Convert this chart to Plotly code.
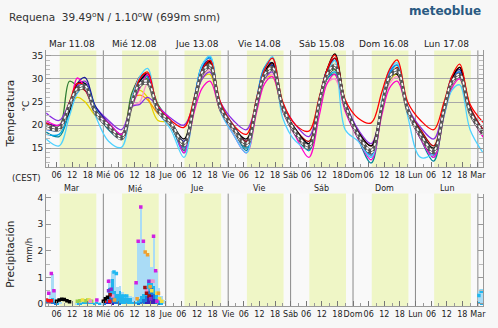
import plotly.graph_objects as go

# ---------------- data ----------------
# hours since Tue 11.08 00:00 (CEST)
hours = [2, 7, 11, 14, 17, 21,
         26, 31, 35, 38, 41, 45,
         50, 55, 59, 62, 65, 69,
         74, 79, 83, 86, 89, 93,
         98, 103, 107, 110, 113, 117,
         122, 127, 131, 134, 137, 141,
         146, 151, 155, 158, 161, 165,
         170]

t_red = [20.5, 19.5, 25, 29, 28.5, 23,
         20, 17.5, 25, 30, 31.5, 24,
         21, 19.5, 26, 32, 34, 25,
         20, 18, 26, 32, 34.5, 25,
         20, 18.7, 26, 32, 35.2, 25.5,
         21.5, 20.5, 27, 32, 34.1, 25,
         21, 19, 25, 30.5, 33.2, 24.5,
         20.6]
t_darkred = [19.5, 19, 24, 28, 27.5, 22.5,
             20, 17.5, 26, 30.5, 31, 23.5,
             20, 16, 25, 31.5, 33.5, 24,
             19.5, 16.5, 25, 31, 33.5, 24,
             19, 16.5, 25, 31.5, 34.5, 24.5,
             18.5, 15.5, 24, 30, 32.5, 23.5,
             19, 15.5, 24, 30, 32.5, 24,
             19]
t_black = [19.5, 19.5, 23, 29, 29, 22.5,
           20, 17, 25.5, 29.5, 31, 23,
           20.5, 17, 25.5, 32, 33.8, 24,
           19.5, 17, 25, 31.5, 33.5, 24,
           19, 16, 25.5, 32, 35.4, 25,
           18.5, 15.5, 24, 30.5, 31, 23.5,
           18.5, 15, 24, 30, 32.5, 23.5,
           18.5]
t_magenta = [21, 20, 24, 30.2, 28, 23,
             20.5, 18, 24, 28, 31, 24,
             21, 14, 23, 28, 29.5, 23,
             18, 14, 23, 29, 30.5, 23,
             17.5, 13, 22, 29, 31, 23,
             17, 12.5, 22, 28, 29.5, 23,
             17, 13, 22, 28, 30, 22.5,
             17.4]
t_purple = [22.6, 21, 25, 28.5, 29.5, 24,
            21, 19, 24, 24.5, 26, 24,
            21.5, 20, 25, 30, 31.5, 25,
            21, 19, 25, 30, 31.5, 24.5,
            20, 17.5, 25, 30.5, 32.5, 25,
            19, 16, 24, 30, 32, 24,
            19.5, 17, 24, 29.5, 31, 23.5,
            19]
t_navy = [20.5, 20, 24, 29, 30.3, 24,
          20.5, 18, 25, 29.5, 30.5, 23.5,
          20.5, 16.5, 26, 32.5, 34, 24.5,
          20, 16.5, 25.5, 32, 33, 24,
          19, 16, 25.5, 32, 34.5, 25,
          18, 14.5, 24, 31, 32, 23.5,
          18, 14, 23.5, 30.5, 32, 23.5,
          18]
t_blue = [19, 19, 23, 27, 28.5, 23,
          19.5, 17, 25, 30, 31, 23.5,
          20, 15, 26, 33, 34.5, 24,
          19, 15.5, 26, 32.5, 33.5, 24,
          18.5, 15, 25.5, 32, 34, 24.5,
          17.5, 13.5, 24, 31.5, 33, 24,
          17.5, 13.5, 23, 30, 31.5, 23,
          18]
t_cyan = [17, 15.5, 22, 27, 28.5, 22,
          16.5, 15.2, 26, 30.5, 32.3, 23,
          19, 13, 25, 33, 35, 23,
          18, 14, 25, 32, 34.8, 21.5,
          16.5, 15, 25, 31, 34, 19,
          16.5, 13, 25, 32, 33.5, 22,
          13, 14, 22, 27.5, 28.7, 19,
          14]
t_teal = [18.5, 17.5, 23, 28, 28.5, 23,
          19, 17, 25.5, 30, 30.5, 23.5,
          20, 14.5, 25, 32.5, 34, 23.5,
          19, 14.5, 25, 31.5, 33, 24,
          18, 14.5, 24.5, 30, 31, 24,
          17, 11.8, 23, 30.5, 32, 23,
          17, 12.2, 23, 30, 31.5, 23,
          18]
t_green = [19.5, 19.5, 29.5, 28.5, 28, 22.5,
           19.5, 18, 27, 30, 30, 24.5,
           20.5, 16, 25, 32, 33.5, 24,
           19.5, 16, 24.5, 31, 32, 24,
           18.5, 15.5, 24, 30.5, 32, 24,
           18, 14.5, 23.5, 30, 31.5, 23.5,
           18, 14.5, 23, 29.5, 31, 23,
           18.5]
t_yellow = [20, 19.5, 24, 26, 25, 22,
            20, 18, 24.5, 27.5, 26, 21,
            20.5, 15, 24, 30, 31, 23,
            19.5, 15.5, 24, 30, 30.5, 23,
            18.5, 15, 24, 30, 31, 23.5,
            18, 14, 23.5, 29.5, 31, 23,
            17.5, 14, 23, 29, 30.5, 22.5,
            18]
t_orange = [20, 19.5, 24, 29, 28, 23,
            20, 17.5, 25.5, 26.5, 25.5, 22.5,
            20.5, 14.5, 25, 31.5, 33, 23.5,
            19, 15, 25, 31, 32.5, 23.5,
            18.5, 14.5, 25, 31, 33, 24,
            18, 13.5, 24, 30.5, 32, 23.5,
            17.5, 13.5, 23.5, 29.5, 31, 23,
            18]
t_pink = [20, 19.5, 24, 28.5, 27.5, 22.5,
          20, 17.5, 24, 25, 29, 23.5,
          20.5, 16, 24.5, 30.5, 32, 23.5,
          19, 15.5, 24, 30, 31, 23,
          18.5, 15.5, 24, 29, 30, 23.5,
          18, 14.5, 23.5, 29, 30.5, 23,
          17.5, 14.5, 23, 29, 30, 22.5,
          17.5]
t_skyblue = [18, 18, 23, 28, 29, 23.5,
             19.5, 17, 25, 29.5, 30.5, 23.5,
             20, 14, 25.5, 33, 34.7, 24,
             19, 15, 26, 32.5, 34.5, 24.5,
             18.5, 14.5, 24.5, 30, 31.5, 24,
             17.5, 13, 24, 31, 33, 23.5,
             17.5, 13, 23, 29.5, 31, 23,
             18]
t_mean = [20, 19.5, 24.5, 28, 28.5, 23,
          20, 17.5, 25, 29, 29.5, 23.5,
          20.5, 16, 25, 31.5, 33, 24,
          19.5, 16, 25, 31, 32.5, 24,
          18.5, 15.5, 25, 31, 33, 24.5,
          18, 14.5, 24, 30.5, 32, 23.5,
          18, 14.5, 23.5, 29.5, 31, 23,
          18.5]
t_median = [19.5, 19, 24, 27.5, 28, 22.5,
            19.5, 17, 24.5, 28.5, 29, 23,
            20, 15.5, 24.5, 31, 32.5, 23.5,
            19, 15.5, 24.5, 30.5, 32, 23.5,
            18, 15, 24.5, 30.5, 32.5, 24,
            17.5, 14, 23.5, 30, 31.5, 23,
            17.5, 14, 23, 29, 30.5, 22.5,
            18]

# precipitation (mm/h), bar centres in hours since Tue 00:00
p_hours = [2.5, 3.5, 4.5, 5.5, 6.5, 7.5, 13.5, 14.5, 15.5, 16.5, 17.5, 18.5, 19.5, 20.5, 21.5, 22.5, 23.5,
           24.5, 25.5, 26.5, 27.5, 28.5, 29.5, 30.5, 31.5, 32.5, 33.5, 34.5, 35.5,
           36.5, 37.5, 38.5, 39.5, 40.5, 41.5, 42.5, 43.5, 44.5, 45.5, 46.5, 47.5,
           168.5, 169.5]
p_max = [0.25, 0.45, 1.15, 0.55, 0.15, 0.08, 0.05, 0.1, 0.12, 0.15, 0.15, 0.15, 0.15, 0.1, 0.2, 0.1, 0.05,
         0.15, 0.3, 0.95, 1.25, 1.15, 0.65, 0.7, 0.45, 0.3, 0.3, 0.3, 0.27,
         0.8, 2.36, 3.65, 2.36, 1.95, 1.85, 1.4, 2.55, 1.25, 0.6, 0.3, 0.15,
         0.5, 0.5]
p_mid = [0.2, 0.2, 0.25, 0.1, 0.05, 0, 0, 0.05, 0.05, 0.1, 0.1, 0.1, 0.08, 0.05, 0.1, 0.05, 0,
         0.1, 0.2, 0.6, 0.95, 0.5, 0.4, 0.5, 0.3, 0.25, 0.25, 0.25, 0.1,
         0.1, 0.2, 0.3, 0.4, 0.6, 0.8, 0.85, 0.7, 0.35, 0.15, 0.05, 0,
         0.1, 0.05]
p_dark = [0.1, 0.1, 0.1, 0.05, 0, 0, 0, 0, 0, 0, 0, 0, 0, 0, 0, 0, 0,
          0.05, 0.15, 0.3, 0.35, 0.2, 0.1, 0.05, 0, 0, 0, 0, 0,
          0, 0.05, 0.1, 0.2, 0.3, 0.5, 0.6, 0.4, 0.2, 0.05, 0, 0,
          0, 0]
p_indigo = [0, 0, 0, 0, 0, 0, 0, 0, 0, 0, 0, 0, 0, 0, 0, 0, 0,
            0, 0.1, 0.15, 0.05, 0, 0, 0, 0, 0, 0, 0, 0,
            0, 0, 0, 0, 0.1, 0.3, 0.35, 0.2, 0, 0, 0, 0,
            0, 0]

mk_magenta_x = [3, 4, 5, 21.5, 26, 36.6, 37.4, 38.4, 39.4, 43.3, 44.1, 44.6]
mk_magenta_y = [0.4, 1.15, 0.5, 0.15, 0.85, 0.8, 2.36, 3.65, 2.36, 2.55, 1.25, 0.1]
mk_orange_x = [40.1, 41.0, 42.0, 37.0, 45.2, 28.3]
mk_orange_y = [1.95, 1.85, 0.65, 0.2, 0.4, 0.15]
mk_yellow_x = [42.6, 44.6, 45.6, 46.5, 16, 18.5]
mk_yellow_y = [0.5, 0.4, 0.2, 0.1, 0.15, 0.15]
mk_black_x = [6, 7, 8, 9, 10, 11, 24, 24.8, 25.6]
mk_black_y = [0.1, 0.15, 0.18, 0.17, 0.12, 0.08, 0.1, 0.2, 0.25]
mk_red_x = [2, 3, 4, 24.5, 26.5]
mk_red_y = [0.15, 0.12, 0.12, 0.1, 0.1]
mk_darkred_x = [26.6, 40.0, 40.6, 41.6]
mk_darkred_y = [0.35, 0.62, 0.4, 0.3]
mk_purple_x = [26.0, 27.0, 41.5, 42.2]
mk_purple_y = [0.5, 0.55, 0.85, 0.2]
mk_pink_x = [42.6, 43.1, 40.6, 27.6, 19]
mk_pink_y = [0.85, 0.85, 0.5, 0.3, 0.1]
mk_cyan_x = [28.1, 29.0, 31.0, 32.0, 33.0, 168.4, 169.3]
mk_cyan_y = [1.2, 1.15, 0.3, 0.3, 0.3, 0.32, 0.48]
mk_green_x = [14, 15, 17, 18, 19.5]
mk_green_y = [0.1, 0.12, 0.12, 0.15, 0.1]

day_labels_top = ["Mar 11.08", "Mié 12.08", "Jue 13.08", "Vie 14.08", "Sáb 15.08", "Dom 16.08", "Lun 17.08"]
day_labels_bot = ["Mar", "Mié", "Jue", "Vie", "Sáb", "Dom", "Lun"]
day_names_mid = ["Mié", "Jue", "Vie", "Sáb", "Dom", "Lun", "Mar"]
sunrise_h = 7.2
sunset_h = 21.3

# ---------------- figure ----------------
W, H = 498, 328
X0, X1 = 46.4, 486.0
def px_x(p): return p / W
def px_y(p): return 1 - p / H

fig = go.Figure()

models = [
    (t_yellow, "#e6d200"), (t_orange, "#ff9500"), (t_pink, "#ff8ccc"),
    (t_green, "#2e7d32"), (t_purple, "#8a2be2"), (t_teal, "#00859a"),
    (t_navy, "#1a1a9c"), (t_blue, "#1f6fff"), (t_skyblue, "#00a6e6"),
    (t_darkred, "#b00000"), (t_black, "#000000"), (t_magenta, "#ff00cc"),
    (t_cyan, "#4fd2ff"), (t_red, "#ff0000"),
]
for vals, col in models:
    fig.add_trace(go.Scatter(x=hours, y=vals, mode="lines", line=dict(color=col, width=1.3, shape="spline", smoothing=1.0),
                             xaxis="x", yaxis="y", showlegend=False, hoverinfo="skip"))
for vals in (t_median, t_mean):
    fig.add_trace(go.Scatter(x=hours, y=vals, mode="lines", line=dict(color="#555555", width=2.8, shape="spline", smoothing=1.0),
                             xaxis="x", yaxis="y", showlegend=False, hoverinfo="skip"))
    fig.add_trace(go.Scatter(x=hours, y=vals, mode="lines", line=dict(color="#ffffff", width=1.6, dash="dot", shape="spline", smoothing=1.0),
                             xaxis="x", yaxis="y", showlegend=False, hoverinfo="skip"))

# precipitation bars
for vals, col in ((p_max, "#aadcf6"), (p_mid, "#22b4ec"), (p_dark, "#1a78d8"), (p_indigo, "#3a22b8")):
    fig.add_trace(go.Bar(x=p_hours, y=vals, width=1.0, marker=dict(color=col, line=dict(width=0)),
                         xaxis="x2", yaxis="y2", showlegend=False, hoverinfo="skip"))
for xs, ys, col in ((mk_green_x, mk_green_y, "#9ad24a"), (mk_yellow_x, mk_yellow_y, "#f2e040"),
                    (mk_orange_x, mk_orange_y, "#f0a030"), (mk_pink_x, mk_pink_y, "#f090c8"),
                    (mk_cyan_x, mk_cyan_y, "#20b8f0"), (mk_red_x, mk_red_y, "#ff1010"),
                    (mk_darkred_x, mk_darkred_y, "#a01010"), (mk_purple_x, mk_purple_y, "#8030d0"),
                    (mk_black_x, mk_black_y, "#000000"), (mk_magenta_x, mk_magenta_y, "#d020e0")):
    fig.add_trace(go.Scatter(x=xs, y=ys, mode="markers", marker=dict(color=col, size=3.5, symbol="square"),
                             xaxis="x2", yaxis="y2", showlegend=False, hoverinfo="skip"))

shapes = []
for d in range(7):
    for ax in ("y", "y2"):
        shapes.append(dict(type="rect", xref="x" if ax == "y" else "x2", yref=ax + " domain",
                           x0=24 * d + sunrise_h, x1=24 * d + sunset_h, y0=0, y1=1,
                           fillcolor="#eff6c6", line=dict(width=0), layer="below"))
for d in range(1, 8):
    for ax in ("y", "y2"):
        shapes.append(dict(type="line", xref="x" if ax == "y" else "x2", yref=ax + " domain",
                           x0=24 * d, x1=24 * d, y0=0, y1=1,
                           line=dict(color="#8a8a8a", width=1), layer="below"))

annotations = []
font = "DejaVu Sans, Verdana, sans-serif"
annotations.append(dict(text="Requena  39.49<sup>o</sup>N / 1.10<sup>o</sup>W (699m snm)", x=px_x(7), y=px_y(16),
                        xref="paper", yref="paper", xanchor="left", yanchor="middle", showarrow=False,
                        font=dict(size=10.5, color="#333333", family=font)))
annotations.append(dict(text="<b>meteoblue</b>", x=px_x(486), y=px_y(10), xref="paper", yref="paper",
                        xanchor="right", yanchor="middle", showarrow=False,
                        font=dict(size=12, color="#2a5a82", family=font)))
for d, lab in enumerate(day_labels_top):
    annotations.append(dict(text=lab, x=24 * d + 12, y=px_y(44), xref="x", yref="paper", showarrow=False,
                            xanchor="center", yanchor="middle", font=dict(size=9, color="#222222", family=font)))
for d, lab in enumerate(day_labels_bot):
    annotations.append(dict(text=lab, x=24 * d + 12, y=px_y(190), xref="x2", yref="paper", showarrow=False,
                            xanchor="center", yanchor="middle", font=dict(size=8, color="#222222", family=font)))
annotations.append(dict(text="(CEST)", x=px_x(27), y=px_y(179), xref="paper", yref="paper", showarrow=False,
                        xanchor="center", yanchor="middle", font=dict(size=8.5, color="#222222", family=font)))
annotations.append(dict(text="Temperatura", x=px_x(10), y=px_y(114), xref="paper", yref="paper", showarrow=False,
                        textangle=-90, xanchor="center", yanchor="middle", font=dict(size=10.5, color="#222222", family=font)))
annotations.append(dict(text="°C", x=px_x(26), y=px_y(106), xref="paper", yref="paper", showarrow=False,
                        textangle=-90, xanchor="center", yanchor="middle", font=dict(size=9, color="#222222", family=font)))
annotations.append(dict(text="Precipitación", x=px_x(10), y=px_y(256), xref="paper", yref="paper", showarrow=False,
                        textangle=-90, xanchor="center", yanchor="middle", font=dict(size=10.5, color="#222222", family=font)))
annotations.append(dict(text="mm/h", x=px_x(29), y=px_y(252), xref="paper", yref="paper", showarrow=False,
                        textangle=-90, xanchor="center", yanchor="middle", font=dict(size=8.5, color="#222222", family=font)))

tickvals = []
ticktext = []
for d in range(7):
    for h, lab in ((6, "06"), (12, "12"), (18, "18")):
        tickvals.append(24 * d + h)
        ticktext.append(lab)
    tickvals.append(24 * (d + 1))
    ticktext.append(day_names_mid[d])

xcommon = dict(range=[2, 170], domain=[px_x(X0), px_x(X1)], tickmode="array", tickvals=tickvals, ticktext=ticktext,
               tickangle=0, ticks="inside", ticklen=5, tickcolor="#777777", showgrid=False, zeroline=False,
               showline=True, linecolor="#999999", linewidth=1,
               minor=dict(dtick=3, tick0=0, ticks="inside", ticklen=3, tickcolor="#999999"),
               tickfont=dict(size=8, color="#222222", family=font))
fig.update_layout(
    width=W, height=H, margin=dict(l=0, r=0, t=0, b=0),
    paper_bgcolor="#f7f7f7", plot_bgcolor="#f9f9f9",
    barmode="overlay", bargap=0,
    xaxis=dict(**xcommon, anchor="y"),
    xaxis2=dict(**xcommon, anchor="y2"),
    yaxis=dict(domain=[px_y(168), px_y(50)], range=[10.94, 36.18], tickvals=[15, 20, 25, 30, 35],
               showgrid=True, gridcolor="#a8a8a8", gridwidth=1, zeroline=False,
               ticks="inside", ticklen=5, tickcolor="#999999", showline=True, linecolor="#999999", mirror="ticks",
               minor=dict(dtick=1, ticks="inside", ticklen=4, tickcolor="#bbbbbb", showgrid=False),
               tickfont=dict(size=9, color="#222222", family=font), anchor="x"),
    yaxis2=dict(domain=[px_y(309), px_y(195)], range=[-0.085, 4.15], tickvals=[0, 1, 2, 3, 4],
                showgrid=False, zeroline=False,
                ticks="inside", ticklen=5, tickcolor="#999999", showline=True, linecolor="#999999", mirror="ticks",
                minor=dict(dtick=0.5, ticks="inside", ticklen=4, tickcolor="#bbbbbb"),
                tickfont=dict(size=9, color="#222222", family=font), anchor="x2"),
    shapes=shapes, annotations=annotations,
)

fig.write_html("out.html")
